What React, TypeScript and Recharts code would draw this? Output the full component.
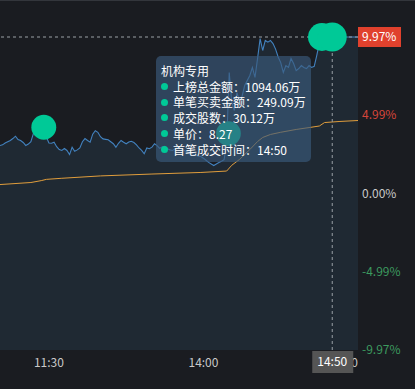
import {
  ComposedChart, Area, Line, Scatter, XAxis, YAxis, ZAxis, ReferenceLine,
} from "recharts";

// minute index: 0 = 9:30, 120 = 11:30/13:00, 240 = 15:00
const PRICE_START = 101;
const pricePct = [
  3.06, 3.10, 3.22, 3.30, 3.38, 3.50, 3.65, 3.44, 3.38, 3.25,
  3.06, 3.15, 3.30, 3.85, 4.25, 4.35, 4.39, 4.30, 3.60, 3.22,
  3.20, 3.27, 2.98, 2.80, 2.74, 2.87, 2.74, 2.48, 2.95, 2.69,
  2.78, 2.90, 3.30, 3.50, 3.38, 3.27, 3.78, 4.00, 3.90, 3.62,
  3.48, 3.45, 3.42, 3.30, 3.17, 2.95, 3.20, 3.38, 3.27, 3.17,
  3.28, 3.33, 3.25, 3.10, 2.90, 2.75, 2.53, 2.90, 2.85, 2.95,
  3.17, 3.05, 2.88, 2.98, 3.00, 2.85, 2.78, 2.74, 2.85, 2.93,
  2.90, 2.78, 2.70, 2.65, 2.61, 2.52, 2.45, 2.38, 2.36, 2.25,
  2.12, 1.98, 1.88, 1.78, 1.88, 1.97, 2.05, 2.15, 3.20, 7.71,
  5.80, 5.29, 6.43, 5.92, 6.20, 6.88, 7.20, 7.52, 8.03, 7.40,
  8.60, 9.87, 9.11, 9.75, 9.64, 9.75, 9.55, 9.20, 8.70, 8.34,
  7.71, 8.15, 8.03, 8.60, 8.28, 7.83, 7.96, 8.15, 8.03, 7.96,
  8.15, 8.03, 8.10, 8.80, 9.60, 9.94, 9.97, 9.97, 9.97, 9.97,
  9.97, 9.97, 9.97, 9.97, 9.97, 9.97, 9.97, 9.97, 9.97, 9.97,
];

const avgMinutes = [101, 113, 117, 119, 125, 140, 160, 179, 189, 191, 194, 198, 201, 203, 206, 210, 216, 221, 225, 227, 233, 240];
const avgPct = [0.57, 0.70, 0.82, 0.90, 0.97, 1.12, 1.24, 1.34, 1.43, 1.80, 2.17, 2.80, 3.31, 3.57, 3.76, 3.90, 4.08, 4.20, 4.30, 4.52, 4.59, 4.65];

// institutional trades (万)
const dealMinutes = [118, 189.7, 226, 230];
const dealPct = [4.22, 3.82, 9.97, 9.97];
const dealAmount = [420, 400, 900, 1094.06];

const yTicks = [-9.97, -4.99, 0, 4.99, 9.97];
const CROSS_MIN = 230;
const CROSS_PCT = 9.97;
// crosshair tick goes last so its box is drawn over 15:00
const xTicks = [120, 180, 240, CROSS_MIN];
const xLabels: Record<number, string> = { 120: "11:30", 180: "14:00", 240: "15:00", 230: "14:50" };

const tipTitle = "机构专用";
const tipRows = [
  "上榜总金额：1094.06万",
  "单笔买卖金额：249.09万",
  "成交股数：30.12万",
  "单价：8.27",
  "首笔成交时间：14:50",
];

const priceData = pricePct.map((v, i) => ({ m: PRICE_START + i, pct: v }));
const avgData = avgMinutes.map((m, i) => ({ m, avg: avgPct[i] }));
const dealData = dealMinutes.map((m, i) => ({ m, deal: dealPct[i], amt: dealAmount[i] }));

const FONT = '"Noto Sans CJK SC", "Noto Sans", sans-serif';

const YTick = (props: any) => {
  const { x, y, payload } = props;
  const v = payload.value as number;
  const label = v.toFixed(2) + "%";
  if (v === CROSS_PCT) {
    return (
      <g>
        <rect x={x - 4} y={y - 10} width={43} height={20} fill="#e0412d" />
        <text x={x} y={y} dy="0.355em" fill="#fff" fontSize={12} fontFamily={FONT}>{label}</text>
      </g>
    );
  }
  const color = v > 0 ? "#d5453a" : v < 0 ? "#3c9a5f" : "#c9c9c9";
  return (
    <text x={x} y={y} dy="0.355em" fill={color} fontSize={12} fontFamily={FONT}>{label}</text>
  );
};

const XTick = (props: any) => {
  const { x, y, payload } = props;
  const v = payload.value as number;
  if (v === CROSS_MIN) {
    return (
      <g>
        <rect x={x - 20} y={y - 7} width={41} height={22} fill="#555555" />
        <text x={x} y={y + 4} dy="0.355em" textAnchor="middle" fill="#fff" fontSize={12} fontFamily={FONT}>{xLabels[v]}</text>
      </g>
    );
  }
  const last = v === 240;
  return (
    <text x={x} y={y} dy="0.71em" textAnchor={last ? "end" : "middle"} fill="#c9c9c9" fontSize={12} fontFamily={FONT}>
      {xLabels[v]}
    </text>
  );
};

export default function App() {
  return (
    <div style={{ position: "absolute", left: 0, top: 0, width: 415, height: 389, background: "#1a1c21", fontFamily: FONT }}>
      <div style={{ position: "absolute", left: 0, top: 0, width: 415, height: 1, background: "#33363c" }} />
      <ComposedChart width={415} height={389} margin={{ top: 37, right: 0, bottom: 0, left: 0 }}>
        <XAxis dataKey="m" type="number" domain={[101, 240]} ticks={xTicks} axisLine={false} tickLine={false} height={39} tick={<XTick />} interval={0} />
        <YAxis type="number" orientation="right" domain={[-9.97, 9.97]} ticks={yTicks} axisLine={false} tickLine={false} tickSize={2} tickMargin={2} width={57} tick={<YTick />} interval={0} />
        <ZAxis dataKey="amt" range={[380, 660]} />
        <Area data={priceData} dataKey="pct" type="linear" stroke="#4282bf" strokeWidth={1.1} fill="#1f2933" fillOpacity={1} baseValue="dataMin" isAnimationActive={false} dot={false} activeDot={false} />
        <Line data={avgData} dataKey="avg" type="linear" stroke="#e09d3c" strokeWidth={1} dot={false} activeDot={false} isAnimationActive={false} />
        <ReferenceLine y={CROSS_PCT} stroke="#9aa0a6" strokeDasharray="3 3" />
        <ReferenceLine x={CROSS_MIN} stroke="#9aa0a6" strokeDasharray="3 3" />
        <Scatter data={dealData} dataKey="deal" fill="#00c997" isAnimationActive={false} />
      </ComposedChart>
      <div
        style={{
          position: "absolute", left: 156, top: 56, width: 155, height: 106, boxSizing: "border-box",
          background: "rgba(58,90,125,0.65)", borderRadius: 5, padding: "7px 0 0 5px",
          color: "#fff", fontSize: 12, lineHeight: "15.7px", whiteSpace: "nowrap",
        }}
      >
        <div>{tipTitle}</div>
        {tipRows.map((r) => (
          <div key={r} style={{ display: "flex", alignItems: "center" }}>
            <span style={{ display: "inline-block", width: 7, height: 7, borderRadius: 4, background: "#00c997", marginRight: 5, flexShrink: 0 }} />
            <span>{r}</span>
          </div>
        ))}
      </div>
    </div>
  );
}
